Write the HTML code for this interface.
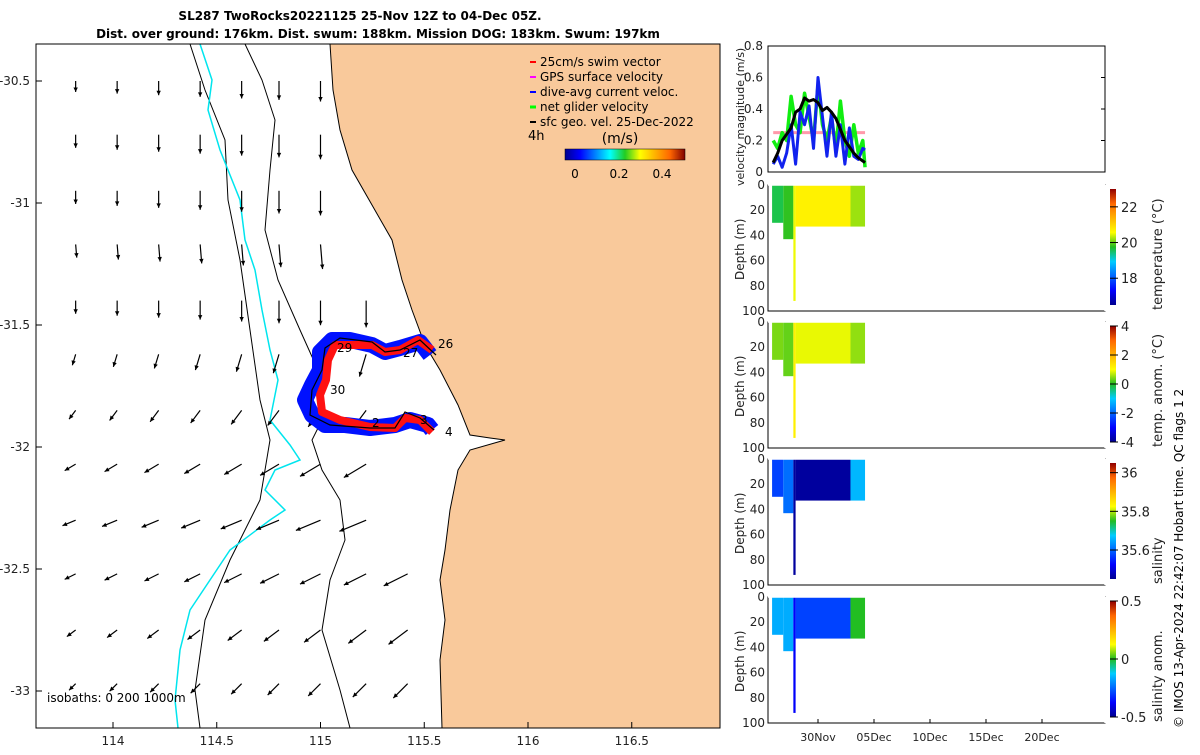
<!DOCTYPE html>
<html><head><meta charset="utf-8"><style>
body{margin:0;background:#fff;width:1200px;height:750px;overflow:hidden;font-family:"Liberation Sans",sans-serif}
svg text{font-family:"DejaVu Sans","Liberation Sans",sans-serif}
</style></head><body>
<svg id="s" width="1200" height="750" xmlns="http://www.w3.org/2000/svg">
<defs>
<linearGradient id="jet" x1="0" x2="1" y1="0" y2="0"><stop offset="0" stop-color="#00008f"/><stop offset=".125" stop-color="#0000ff"/><stop offset=".375" stop-color="#00ffff"/><stop offset=".5" stop-color="#22cc22"/><stop offset=".625" stop-color="#ffff00"/><stop offset=".875" stop-color="#ff6600"/><stop offset="1" stop-color="#800000"/></linearGradient>
<linearGradient id="jetv" x1="0" x2="0" y1="1" y2="0"><stop offset="0" stop-color="#00008f"/><stop offset=".125" stop-color="#0000ff"/><stop offset=".375" stop-color="#00ccff"/><stop offset=".5" stop-color="#22bb22"/><stop offset=".625" stop-color="#ffff00"/><stop offset=".875" stop-color="#ff6600"/><stop offset="1" stop-color="#900000"/></linearGradient>
<clipPath id="mapclip"><rect x="36" y="44" width="684" height="684"/></clipPath>
</defs>
<g font-weight="bold" font-size="12" text-anchor="middle">
<text x="360" y="20">SL287 TwoRocks20221125 25-Nov 12Z to 04-Dec 05Z.</text>
<text x="378" y="38">Dist. over ground: 176km. Dist. swum: 188km. Mission DOG: 183km. Swum: 197km</text>
</g>
<g id="map" clip-path="url(#mapclip)">
<rect x="36" y="44" width="684" height="684" fill="#fff"/>
<path fill="#f9c99b" d="M330,44 L333,90 L340,130 L352,170 L372,205 L392,240 L402,280 L412,310 L425,345 L440,370 L458,405 L470,435 L490,438 L505,440 L470,450 L458,470 L450,510 L445,550 L440,580 L445,620 L440,660 L442,728 L720,728 L720,44 Z"/>
<path fill="none" stroke="#000" stroke-width="1" d="M330,44 L333,90 L340,130 L352,170 L372,205 L392,240 L402,280 L412,310 L425,345 L440,370 L458,405 L470,435 L490,438 L505,440 L470,450 L458,470 L450,510 L445,550 L440,580 L445,620 L440,660 L442,728"/>
<path fill="none" stroke="#000" stroke-width="1" d="M245,44 L262,80 L275,120 L270,170 L265,230 L278,280 L300,330 L318,370 L322,420 L312,440 L322,470 L340,500 L345,540 L330,580 L322,630 L340,690 L350,728"/>
<path fill="none" stroke="#000" stroke-width="1" d="M190,44 L205,90 L225,140 L228,200 L240,260 L250,330 L260,400 L270,440 L260,500 L230,560 L205,620 L195,690 L200,728"/>
<path fill="none" stroke="#00e5ee" stroke-width="1.5" d="M200,44 L212,80 L208,110 L220,150 L240,200 L245,240 L255,270 L262,310 L270,350 L278,380 L270,420 L290,445 L300,460 L275,470 L265,490 L285,510 L270,520 L230,550 L210,580 L190,610 L180,650 L175,700 L178,728"/>
<g id="arrows"></g>
<path fill="none" stroke="#0011ff" stroke-width="16" stroke-linejoin="round" d="M430,355 L420,342 L400,348 L385,352 L372,345 L350,340 L332,340 L320,352 L320,370 L312,385 L305,400 L312,415 L325,425 L345,425 L370,428 L395,425 L410,420 L428,425 L432,430"/>
<path fill="none" stroke="#ff1111" stroke-width="8" stroke-linejoin="round" d="M432,350 L418,340 L400,350 L385,352 L372,345 L350,345 L335,345 L328,360 L326,380 L320,395 L322,412 L340,420 L370,427 L395,428 L405,418 L420,420 L432,432"/>
<path fill="none" stroke="#000" stroke-width="1.2" d="M436,355 L420,340 L400,350 L385,352 L372,342 L340,338 L325,348 L322,370 L312,390 L310,415 L330,425 L370,428 L395,428 L405,412 L420,418 L434,430"/>
<g font-size="12">
<text x="438" y="348">26</text><text x="403" y="357">27</text><text x="337" y="352">29</text><text x="330" y="394">30</text><text x="372" y="427">2</text><text x="420" y="424">3</text><text x="445" y="436">4</text>
</g>
<text x="47" y="702" font-size="12">isobaths: 0   200  1000m</text>
<g font-size="12">
<line x1="530" y1="62" x2="536" y2="62" stroke="#f00" stroke-width="2"/><text x="540" y="66">25cm/s swim vector</text>
<line x1="530" y1="77" x2="536" y2="77" stroke="#f0f" stroke-width="2"/><text x="540" y="81">GPS surface velocity</text>
<line x1="530" y1="92" x2="536" y2="92" stroke="#00f" stroke-width="2"/><text x="540" y="96">dive-avg current veloc.</text>
<line x1="530" y1="107" x2="536" y2="107" stroke="#0f0" stroke-width="3"/><text x="540" y="111">net glider velocity</text>
<line x1="530" y1="122" x2="536" y2="122" stroke="#000" stroke-width="2"/><text x="540" y="126">sfc geo. vel. 25-Dec-2022</text>
<text x="528" y="140" font-size="13">4h</text>
<text x="620" y="143" font-size="14" text-anchor="middle">(m/s)</text>
<rect x="565" y="149" width="120" height="11" fill="url(#jet)" stroke="#000" stroke-width=".5"/>
<text x="575" y="178" text-anchor="middle" font-size="12">0</text><text x="619" y="178" text-anchor="middle" font-size="12">0.2</text><text x="662" y="178" text-anchor="middle" font-size="12">0.4</text>
</g>
</g>
<g id="mapaxes" font-size="12" fill="#222"></g>
<g id="right"></g>
<text transform="translate(1183,728) rotate(-90)" font-size="12">© IMOS 13-Apr-2024 22:42:07 Hobart time. QC flags 1  2</text>
</svg>
<script>
// ---- data ----
const lonTicks=[114,114.5,115,115.5,116,116.5];
const latTicks=[-30.5,-31,-31.5,-32,-32.5,-33];
const arrowRowsLat=[-30.5,-30.72,-30.95,-31.17,-31.4,-31.62,-31.85,-32.07,-32.3,-32.52,-32.75,-32.97];
const arrowColsLon=[113.82,114.02,114.22,114.42,114.62,114.8,115.0,115.22,115.42];
const arrowU=[0.0,0.0,0.0,0.01,0.0,-0.03,-0.06,-0.1,-0.12,-0.1,-0.08,-0.06];
const arrowV=[-0.1,-0.12,-0.12,-0.12,-0.12,-0.1,-0.08,-0.06,-0.05,-0.05,-0.06,-0.06];
const velDays=[26.0,26.4,26.8,27.2,27.6,28.0,28.4,28.8,29.2,29.6,30.0,30.4,30.8,31.2,31.6,32.0,32.4,32.8,33.2,33.6,34.0,34.2];
const velNet=[0.2,0.15,0.25,0.2,0.48,0.3,0.25,0.5,0.35,0.2,0.55,0.3,0.2,0.35,0.15,0.45,0.2,0.1,0.3,0.12,0.2,0.03];
const velDive=[0.05,0.1,0.03,0.12,0.3,0.05,0.38,0.3,0.42,0.15,0.6,0.35,0.1,0.38,0.1,0.3,0.05,0.28,0.1,0.08,0.15,0.14];
const velGeo=[0.06,0.12,0.2,0.24,0.28,0.38,0.4,0.47,0.45,0.46,0.44,0.39,0.41,0.38,0.34,0.27,0.2,0.16,0.12,0.09,0.07,0.06];
const dateTicks=["30Nov","05Dec","10Dec","15Dec","20Dec"];
const dateTickDays=[30,35,40,45,50];
const sectionDays=[25.9,26.9,27.8,28.0,32.9,34.2];
const sectionDepth=[30,43,92,33,33];
const tempVals=[19.6,19.8,20.5,20.7,20.2];
const tanomVals=[0.4,0.3,1.2,0.9,0.5];
const salVals=[35.57,35.6,35.46,35.46,35.65];
const sanomVals=[-0.18,-0.18,-0.38,-0.3,0.0];
// ---- helpers ----
const S=document.getElementById('s');const NS='http://www.w3.org/2000/svg';
function mk(t,a,p){const e=document.createElementNS(NS,t);for(const k in a)e.setAttribute(k,a[k]);(p||S).appendChild(e);return e;}
const lonX=l=>113+(l-114)*207.5, latY=l=>81+(-30.5-l)*244;
const MA=document.getElementById('mapaxes');
mk('rect',{x:36,y:44,width:684,height:684,fill:'none',stroke:'#000','stroke-width':1},MA);
lonTicks.forEach(l=>{const x=lonX(l);const t=mk('text',{x:x,y:745,'text-anchor':'middle'},MA);t.textContent=l;

mk('line',{x1:x,y1:728,x2:x,y2:722,stroke:'#000'},MA);});
latTicks.forEach(l=>{const y=latY(l);const t=mk('text',{x:30,y:y+4,'text-anchor':'end'},MA);t.textContent=l;

mk('line',{x1:36,y1:y,x2:42,y2:y,stroke:'#000'},MA);});
// arrows
const AR=document.getElementById('arrows');
arrowRowsLat.forEach((la,i)=>{
arrowColsLon.forEach(lo=>{const x=lonX(lo),y=latY(la);
if(x>330+(y-44)*0.16&&y<560) return;
const f=0.6+(lo-113.8)*0.45;
const u=arrowU[i]*f,v=arrowV[i]*f;
const ex=x+u*180,ey=y-v*180;
const ln=mk('line',{x1:x,y1:y,x2:ex,y2:ey,stroke:'#000','stroke-width':1.2},AR);

const ang=Math.atan2(ey-y,ex-x);
mk('path',{d:`M${ex},${ey} L${ex-5*Math.cos(ang-0.45)},${ey-5*Math.sin(ang-0.45)} L${ex-5*Math.cos(ang+0.45)},${ey-5*Math.sin(ang+0.45)}Z`,fill:'#000'},AR);
});});
// right panels
const R=document.getElementById('right');
const X0=768,X1=1105,dayX=d=>818+(d-30)*11.2;
const vy=v=>172-v/0.8*126;
const vp=mk('g',{},R);
mk('line',{x1:dayX(26),y1:vy(0.25),x2:dayX(34.2),y2:vy(0.25),stroke:'#f9a',"stroke-width":3},vp);
function pl(arr,col,w,nm){const p=mk('polyline',{points:velDays.map((d,i)=>dayX(d)+','+vy(arr[i])).join(' '),fill:'none',stroke:col,'stroke-width':w,'stroke-linejoin':'round'},vp);}
pl(velNet,'#11ee11',3.5,'net-glider-velocity-line');pl(velDive,'#1122ee',3,'dive-avg-velocity-line');pl(velGeo,'#000',3,'geo-velocity-line');
mk('rect',{x:X0,y:46,width:X1-X0,height:126,fill:'none',stroke:'#000'},vp);
[0,0.2,0.4,0.6,0.8].forEach(v=>{const t=mk('text',{x:763,y:vy(v)+4,'text-anchor':'end','font-size':12,fill:'#222'},vp);t.textContent=v;
mk('line',{x1:X1,y1:vy(v),x2:X1-4,y2:vy(v),stroke:'#000'},vp);});
const yl=mk('text',{transform:'translate(744,186) rotate(-90)','font-size':11,fill:'#222'},vp);yl.textContent='velocity magnitude (m/s)';
const panels=[{y:185,vals:tempVals,min:16.5,max:23,ticks:[18,20,22],label:'temperature (°C)',nm:'temperature'},
{y:322,vals:tanomVals,min:-4,max:4,ticks:[-4,-2,0,2,4],label:'temp. anom. (°C)',nm:'temp-anomaly'},
{y:459,vals:salVals,min:35.45,max:36.05,ticks:[35.6,35.8,36],label:'salinity',nm:'salinity'},
{y:597,vals:sanomVals,min:-0.5,max:0.5,ticks:[-0.5,0,0.5],label:'salinity anom.',nm:'salinity-anomaly'}];
const jetStops=[[0,0,0,143],[.125,0,0,255],[.375,0,220,255],[.5,34,190,34],[.625,255,255,0],[.875,255,102,0],[1,144,0,0]];
function jet(f){f=Math.max(0,Math.min(1,f));for(let i=1;i<jetStops.length;i++){const a=jetStops[i-1],b=jetStops[i];if(f<=b[0]){const t=(f-a[0])/(b[0]-a[0]);return `rgb(${[1,2,3].map(k=>Math.round(a[k]+(b[k]-a[k])*t)).join(',')})`;}}}
panels.forEach(P=>{const g=mk('g',{},R);
const H=126,dy=d=>P.y+d/100*H;
P.vals.forEach((v,i)=>{const r=mk('rect',{x:dayX(sectionDays[i]),y:dy(0),width:dayX(sectionDays[i+1])-dayX(sectionDays[i]),height:dy(sectionDepth[i])-dy(0),fill:jet((v-P.min)/(P.max-P.min))},g);
});
mk('rect',{x:X0,y:P.y,width:X1-X0,height:H,fill:'none',stroke:'#000'},g);
mk('line',{x1:X0,y1:P.y,x2:X1,y2:P.y,stroke:'#fff','stroke-width':1.5},g);
mk('line',{x1:X1,y1:P.y,x2:X1,y2:P.y+H,stroke:'#fff','stroke-width':1.5},g);
[0,20,40,60,80,100].forEach(d=>{const t=mk('text',{x:765,y:dy(d)+4,'text-anchor':'end','font-size':12,fill:'#222'},g);t.textContent=d;});
const yl=mk('text',{transform:`translate(744,${P.y+95}) rotate(-90)`,'font-size':12,fill:'#222'},g);yl.textContent='Depth (m)';
const cb=mk('rect',{x:1110,y:P.y+4,width:6,height:116,fill:'url(#jetv)'},g);
P.ticks.forEach(tk=>{const y=P.y+120-(tk-P.min)/(P.max-P.min)*116;mk('line',{x1:1110,y1:y,x2:1118,y2:y,stroke:'#000'},g);
const t=mk('text',{x:1121,y:y+5,'font-size':13,fill:'#222'},g);t.textContent=tk;});
const cl=mk('text',{transform:`translate(1162,${P.y+125}) rotate(-90)`,'font-size':13,fill:'#222'},g);cl.textContent=P.label;
});
dateTicks.forEach((s,i)=>{const x=dayX(dateTickDays[i]);const t=mk('text',{x:x,y:741,'text-anchor':'middle','font-size':11,fill:'#222'},R);t.textContent=s;

mk('line',{x1:x,y1:723,x2:x,y2:719,stroke:'#000'},R);});
</script>
</body></html>
